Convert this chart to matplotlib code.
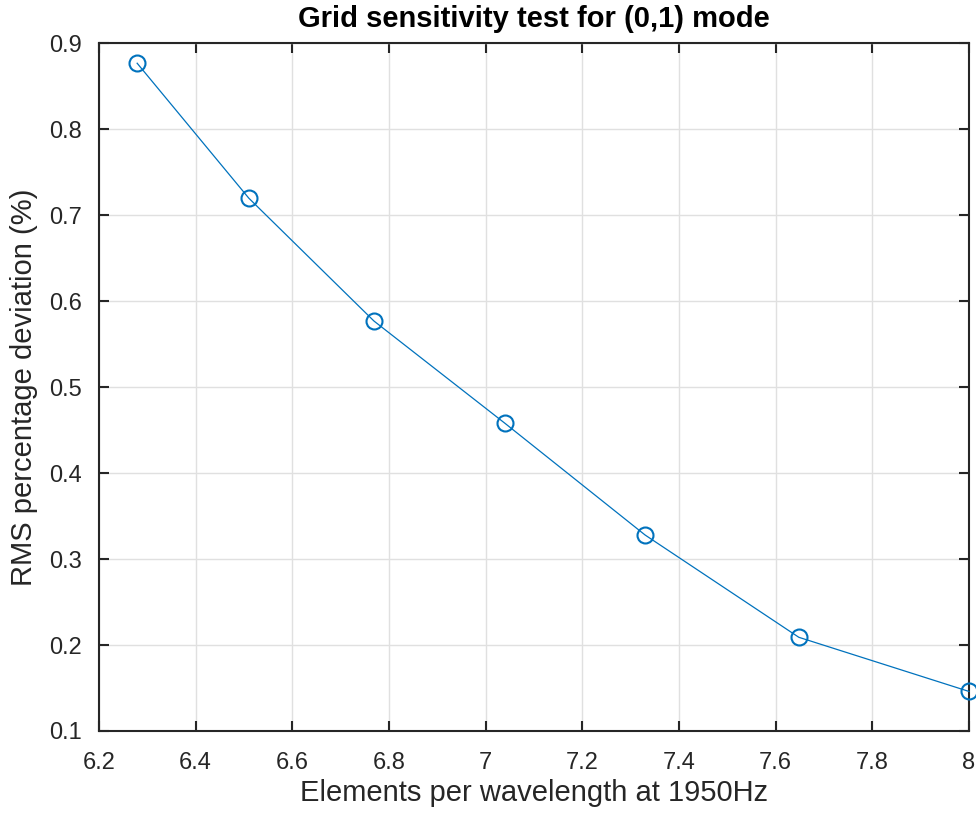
import matplotlib
matplotlib.use("Agg")
import matplotlib.pyplot as plt

elements = [6.279, 6.510, 6.769, 7.040, 7.330, 7.648, 8.0]
rms_dev = [0.877, 0.720, 0.577, 0.458, 0.328, 0.209, 0.146]
xticks = [6.2, 6.4, 6.6, 6.8, 7.0, 7.2, 7.4, 7.6, 7.8, 8.0]
xticklabels = ["6.2", "6.4", "6.6", "6.8", "7", "7.2", "7.4", "7.6", "7.8", "8"]
yticks = [0.1, 0.2, 0.3, 0.4, 0.5, 0.6, 0.7, 0.8, 0.9]
yticklabels = ["0.1", "0.2", "0.3", "0.4", "0.5", "0.6", "0.7", "0.8", "0.9"]

plt.rcParams['font.family'] = ['Liberation Sans', 'DejaVu Sans']

fig = plt.figure(figsize=(9.76, 8.14), dpi=100)
ax = fig.add_axes([0.1014, 0.102, 0.8914, 0.8446])

ax.plot(elements, rms_dev, color='#0072BD', lw=0.9, marker='o', ms=11.5,
        mfc='none', mec='#0072BD', mew=1.5, clip_on=False, zorder=3)

ax.set_xlim(6.2, 8.0)
ax.set_ylim(0.1, 0.9)
ax.set_xticks(xticks)
ax.set_xticklabels(xticklabels)
ax.set_yticks(yticks)
ax.set_yticklabels(yticklabels)
ax.grid(True, color='#e0e0e0', lw=1.0)
ax.set_axisbelow(True)
ax.tick_params(direction='in', length=7, width=1.5, top=True, right=True,
               labelsize=17, colors='#262626')
ax.tick_params(axis='x', pad=15)
ax.tick_params(axis='y', pad=12)
for s in ax.spines.values():
    s.set_linewidth(1.5)
    s.set_color('#262626')

ax.set_xlabel('Elements per wavelength at 1950Hz', fontsize=21, color='#262626', labelpad=4)
ax.set_ylabel('RMS percentage deviation (%)', fontsize=21, color='#262626', labelpad=8)
ax.set_title('Grid sensitivity test for (0,1) mode', fontsize=21, fontweight='bold', pad=12)

fig.savefig('out.png', dpi=100)
